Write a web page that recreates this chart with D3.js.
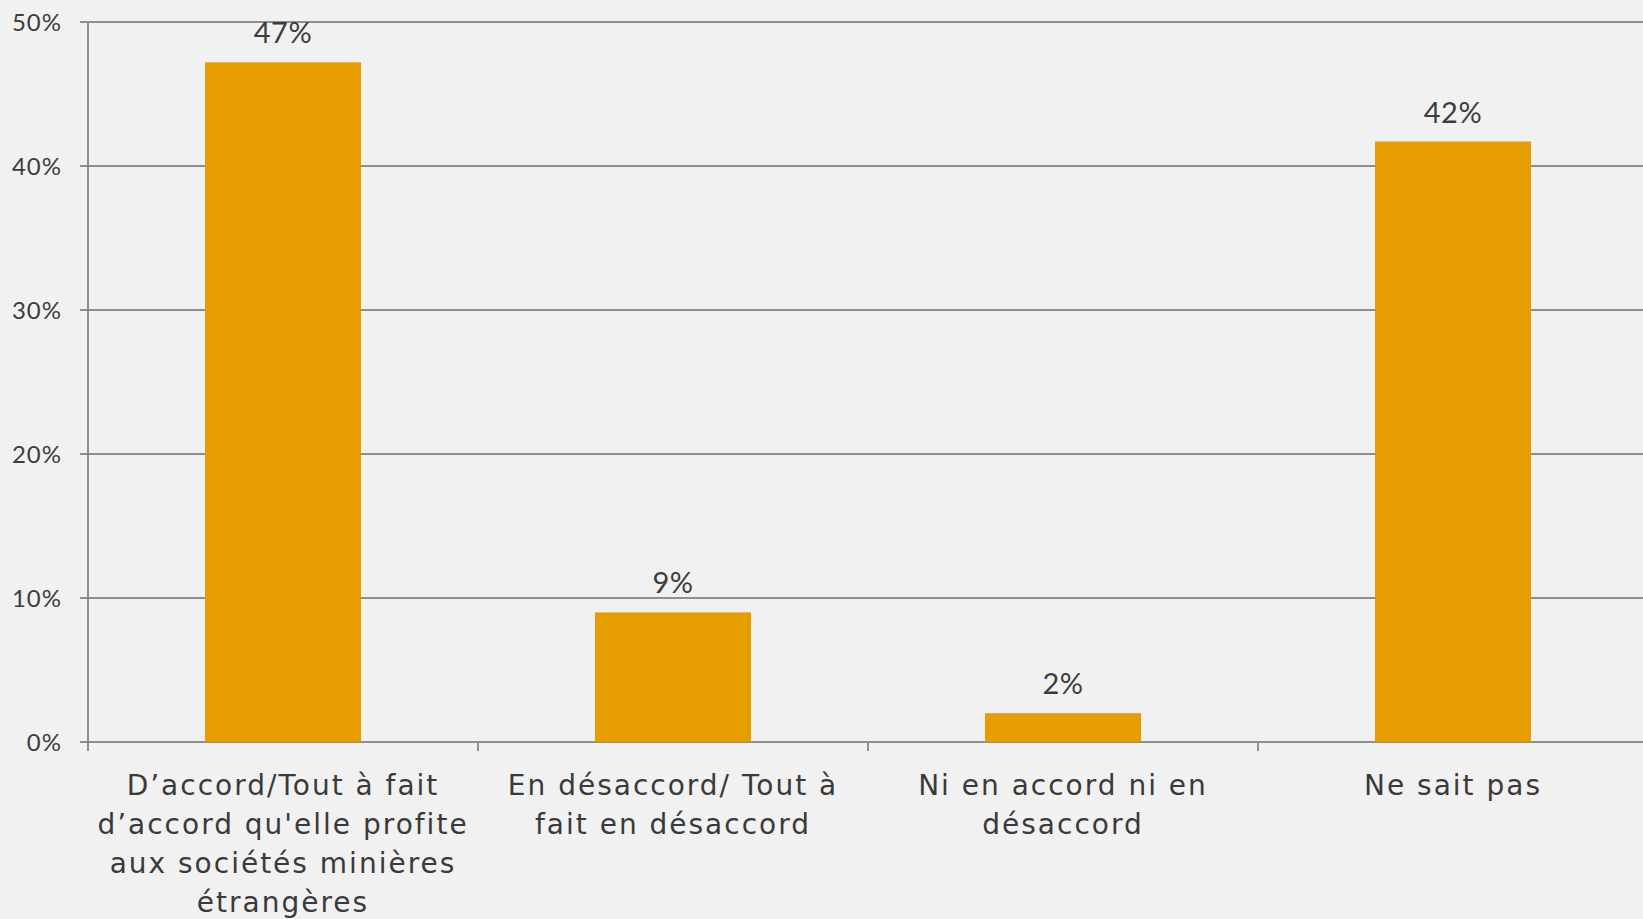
<!DOCTYPE html>
<html>
<head>
<meta charset="utf-8">
<script src="https://cdn.jsdelivr.net/npm/d3@7"></script>
<style>
  html, body { margin: 0; padding: 0; background: #f1f1f1; overflow: hidden; }
  svg { display: block; }
  text { font-family: "Century Gothic", "URW Gothic", "Lato", "Open Sans", sans-serif; fill: #3d3d3d; }
  text.cat { font-family: "Century Gothic", "URW Gothic", "DejaVu Sans", sans-serif; fill: #3a3a3a; }
</style>
</head>
<body>
<svg id="chart" width="1643" height="919"></svg>
<script>
const categories = [
  "D’accord/Tout à fait d’accord qu'elle profite aux sociétés minières étrangères",
  "En désaccord/ Tout à fait en désaccord",
  "Ni en accord ni en désaccord",
  "Ne sait pas"
];
const categoryLines = [
  ["D’accord/Tout à fait", "d’accord qu'elle profite", "aux sociétés minières", "étrangères"],
  ["En désaccord/ Tout à", "fait en désaccord"],
  ["Ni en accord ni en", "désaccord"],
  ["Ne sait pas"]
];
const values = [0.472, 0.090, 0.020, 0.417];
const valueLabels = ["47%", "9%", "2%", "42%"];
const yTicks = [0, 0.1, 0.2, 0.3, 0.4, 0.5];
const yTickLabels = ["0%", "10%", "20%", "30%", "40%", "50%"];

(function () {
const svg = d3.select("#chart");
const plotLeft = 88, step = 390, plotTop = 22, plotBottom = 742;

const x = d3.scaleBand()
  .domain(categories)
  .range([plotLeft, plotLeft + step * categories.length])
  .paddingInner(0.6)
  .paddingOuter(0.3);

const y = d3.scaleLinear().domain([0, 0.5]).range([plotBottom, plotTop]);

// gridlines
svg.append("g")
  .selectAll("line")
  .data(yTicks)
  .join("line")
  .attr("x1", plotLeft - 8)
  .attr("x2", 1643)
  .attr("y1", d => y(d))
  .attr("y2", d => y(d))
  .attr("stroke", "#8f8f8f")
  .attr("stroke-width", 2);

// y axis line
svg.append("line")
  .attr("x1", plotLeft).attr("x2", plotLeft)
  .attr("y1", y(0.5)).attr("y2", plotBottom + 9)
  .attr("stroke", "#8f8f8f").attr("stroke-width", 2);

// x ticks at category boundaries
const boundaries = d3.range(1, categories.length + 1).map(i => plotLeft + step * i);
svg.append("g")
  .selectAll("line")
  .data(boundaries)
  .join("line")
  .attr("x1", d => d).attr("x2", d => d)
  .attr("y1", plotBottom).attr("y2", plotBottom + 9)
  .attr("stroke", "#8f8f8f").attr("stroke-width", 2);

// y tick labels
svg.append("g")
  .selectAll("text")
  .data(yTicks)
  .join("text")
  .attr("x", 62)
  .attr("y", d => y(d))
  .attr("dy", "0.36em")
  .attr("text-anchor", "end")
  .attr("font-size", 24)
  .attr("letter-spacing", 1)
  .text((d, i) => yTickLabels[i]);

// bars
svg.append("g")
  .selectAll("rect")
  .data(values)
  .join("rect")
  .attr("x", (d, i) => x(categories[i]))
  .attr("width", x.bandwidth())
  .attr("y", d => y(d))
  .attr("height", d => plotBottom - y(d))
  .attr("fill", "#e59d00");

// value labels
svg.append("g")
  .selectAll("text")
  .data(values)
  .join("text")
  .attr("x", (d, i) => x(categories[i]) + x.bandwidth() / 2)
  .attr("y", d => y(d) - 19)
  .attr("text-anchor", "middle")
  .attr("font-size", 29)
  .attr("letter-spacing", 0.5)
  .text((d, i) => valueLabels[i]);

// category labels
const catG = svg.append("g");
categories.forEach((c, i) => {
  const cx = x(c) + x.bandwidth() / 2;
  const t = catG.append("text")
    .attr("class", "cat")
    .attr("x", cx)
    .attr("y", 795)
    .attr("text-anchor", "middle")
    .attr("font-size", 28)
    .attr("letter-spacing", 2);
  categoryLines[i].forEach((line, j) => {
    t.append("tspan")
      .attr("x", cx)
      .attr("dy", j === 0 ? 0 : 39)
      .text(line);
  });
});
})();
</script>
</body>
</html>
